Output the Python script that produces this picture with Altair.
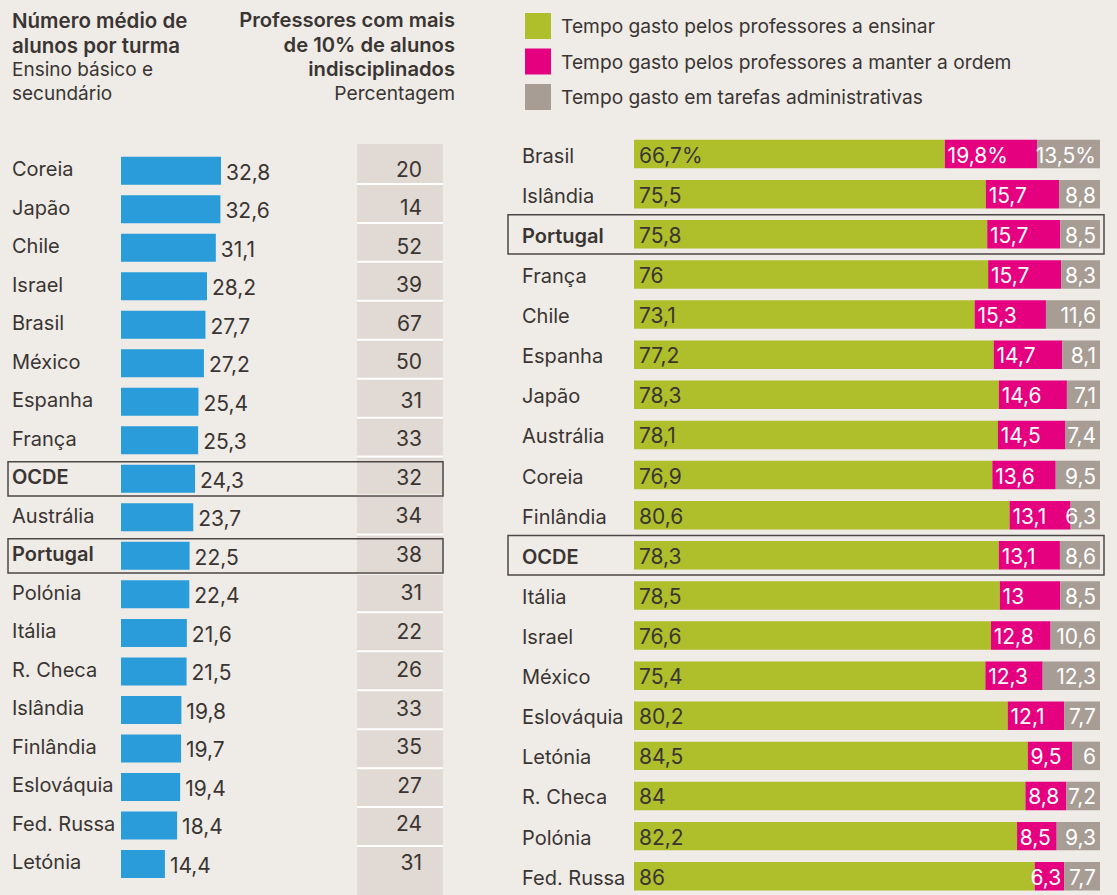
import altair as alt
import pandas as pd

# ---------------- data ----------------
left_countries = ["Coreia", "Japão", "Chile", "Israel", "Brasil", "México", "Espanha", "França",
                  "OCDE", "Austrália", "Portugal", "Polónia", "Itália", "R. Checa", "Islândia",
                  "Finlândia", "Eslováquia", "Fed. Russa", "Letónia"]
class_size = [32.8, 32.6, 31.1, 28.2, 27.7, 27.2, 25.4, 25.3, 24.3, 23.7, 22.5, 22.4, 21.6,
              21.5, 19.8, 19.7, 19.4, 18.4, 14.4]
indisc_pct = [20, 14, 52, 39, 67, 50, 31, 33, 32, 34, 38, 31, 22, 26, 33, 35, 27, 24, 31]

right_countries = ["Brasil", "Islândia", "Portugal", "França", "Chile", "Espanha", "Japão",
                   "Austrália", "Coreia", "Finlândia", "OCDE", "Itália", "Israel", "México",
                   "Eslováquia", "Letónia", "R. Checa", "Polónia", "Fed. Russa"]
teach = [66.7, 75.5, 75.8, 76, 73.1, 77.2, 78.3, 78.1, 76.9, 80.6, 78.3, 78.5, 76.6, 75.4,
         80.2, 84.5, 84, 82.2, 86]
keep_order = [19.8, 15.7, 15.7, 15.7, 15.3, 14.7, 14.6, 14.5, 13.6, 13.1, 13.1, 13, 12.8,
              12.3, 12.1, 9.5, 8.8, 8.5, 6.3]
admin = [13.5, 8.8, 8.5, 8.3, 11.6, 8.1, 7.1, 7.4, 9.5, 6.3, 8.6, 8.5, 10.6, 12.3, 7.7, 6,
         7.2, 9.3, 7.7]

segments = ["Tempo gasto pelos professores a ensinar",
            "Tempo gasto pelos professores a manter a ordem",
            "Tempo gasto em tarefas administrativas"]
seg_colors = ["#AFBE2B", "#E4007F", "#A79D95"]

highlight = ["OCDE", "Portugal"]

title_left_bold = ["Número médio de", "alunos por turma"]
title_left_reg = ["Ensino básico e", "secundário"]
title_mid_bold = ["Professores com mais", "de 10% de alunos", "indisciplinados"]
title_mid_reg = ["Percentagem"]

# ---------------- style ----------------
BG = "#EFEBE7"
COL_BG = "#E1D9D3"
BLUE = "#299CD9"
TXT = "#3A3532"
BOX = "#4D4847"
FONT = "Inter"
PX_PER_UNIT = 466 / 100.0


def fmt(v):
    return f"{v:g}".replace(".", ",")


def text_units(s):
    # rough width of a 21px label, converted to bar units (used to keep labels inside)
    w = 0.0
    for ch in s:
        w += 5.7 if ch == "," else (17.0 if ch == "%" else 12.6)
    return w / PX_PER_UNIT


# ---------------- tables ----------------
left_df = pd.DataFrame({
    "country": left_countries,
    "size": class_size,
    "size_lbl": [fmt(v) for v in class_size],
    "indisc": [str(v) for v in indisc_pct],
})
left_reg = left_df[~left_df.country.isin(highlight)]
left_bold = left_df[left_df.country.isin(highlight)]
sep_df = left_df.iloc[1:]

rows = []
for i, c in enumerate(right_countries):
    vals = [teach[i], keep_order[i], admin[i]]
    start = 0.0
    for j, s in enumerate(segments):
        lbl = fmt(vals[j]) + ("%" if i == 0 else "")
        end = start + vals[j]
        lx = min(start + 0.6, end - 0.6 - text_units(lbl)) if j == 1 else start
        rows.append({"country": c, "seg": s, "start": start, "end": end,
                     "lbl": lbl, "k": j, "lx": lx})
        start = end
right_df = pd.DataFrame(rows)
r_names = pd.DataFrame({"country": right_countries})
r_reg = r_names[~r_names.country.isin(highlight)]
r_bold = r_names[r_names.country.isin(highlight)]

legend_df = pd.DataFrame({"seg": segments})
one = pd.DataFrame({"a": [0]})

# ---------------- scales ----------------
ly_scale = alt.Scale(domain=left_countries, range=[151.5, 883.2], paddingInner=0.273, paddingOuter=0.1365)
lbox_scale = alt.Scale(domain=left_countries, range=[151.5, 883.2], paddingInner=0.11, paddingOuter=0.055)
lsep_scale = alt.Scale(domain=left_countries, range=[145, 885], paddingInner=0, paddingOuter=0)
lx_scale = alt.Scale(domain=[0, 32.8], range=[121, 221], nice=False, zero=True)

ry_scale = alt.Scale(domain=right_countries, range=[134.0, 896.3], paddingInner=0.29, paddingOuter=0.145)
rbox_scale = alt.Scale(domain=right_countries, range=[134.0, 896.3], paddingInner=0.02, paddingOuter=0.01)
rx_scale = alt.Scale(domain=[0, 100], range=[634, 1100], nice=False)

ly = alt.Y("country:N", scale=ly_scale, axis=None)
ry = alt.Y("country:N", scale=ry_scale, axis=None)

layers = []

# middle column background + separators
layers.append(alt.Chart(one).mark_rect(color=COL_BG).encode(
    x=alt.value(357), x2=alt.value(443), y=alt.value(144), y2=alt.value(895)))
layers.append(alt.Chart(sep_df).mark_rule(color="#FFFFFF", strokeWidth=2).encode(
    x=alt.value(357), x2=alt.value(443),
    y=alt.Y("country:N", scale=lsep_scale, axis=None, bandPosition=0)))

# left bars
layers.append(alt.Chart(left_df).mark_bar(color=BLUE).encode(
    x=alt.X("size:Q", scale=lx_scale, axis=None), y=ly))
layers.append(alt.Chart(left_df).mark_text(align="left", baseline="alphabetic", dx=5, dy=9,
                                           font=FONT, fontSize=21, color=TXT).encode(
    x=alt.X("size:Q", scale=lx_scale, axis=None), y=ly, text="size_lbl:N"))
# left names
layers.append(alt.Chart(left_reg).mark_text(align="left", baseline="alphabetic", dy=5.5,
                                            font=FONT, fontSize=20, color=TXT).encode(
    x=alt.value(12), y=ly, text="country:N"))
layers.append(alt.Chart(left_bold).mark_text(align="left", baseline="alphabetic", dy=5.5,
                                             font=FONT, fontSize=20, fontWeight=600, color=TXT).encode(
    x=alt.value(12), y=ly, text="country:N"))
# middle numbers
layers.append(alt.Chart(left_df).mark_text(align="right", baseline="alphabetic", dy=6,
                                           font=FONT, fontSize=21, color=TXT).encode(
    x=alt.value(422), y=ly, text="indisc:N"))
# left highlight boxes
layers.append(alt.Chart(left_bold).mark_rect(fillOpacity=0, stroke=BOX, strokeWidth=1.5).encode(
    x=alt.value(8), x2=alt.value(443),
    y=alt.Y("country:N", scale=lbox_scale, axis=None)))

# right stacked bars
color_enc = alt.Color("seg:N", scale=alt.Scale(domain=segments, range=seg_colors), legend=None)
layers.append(alt.Chart(right_df).mark_bar().encode(
    x=alt.X("start:Q", scale=rx_scale, axis=None), x2="end:Q", y=ry, color=color_enc))
layers.append(alt.Chart(right_df[right_df.k == 0]).mark_text(
    align="left", baseline="alphabetic", dx=5, dy=8.5, font=FONT, fontSize=21, color=TXT).encode(
    x=alt.X("start:Q", scale=rx_scale, axis=None), y=ry, text="lbl:N"))
layers.append(alt.Chart(right_df[right_df.k == 1]).mark_text(
    align="left", baseline="alphabetic", dx=0, dy=8.5, font=FONT, fontSize=21, color="#FFFFFF").encode(
    x=alt.X("lx:Q", scale=rx_scale, axis=None), y=ry, text="lbl:N"))
layers.append(alt.Chart(right_df[right_df.k == 2]).mark_text(
    align="right", baseline="alphabetic", dx=-4, dy=8.5, font=FONT, fontSize=21, color="#FFFFFF").encode(
    x=alt.X("end:Q", scale=rx_scale, axis=None), y=ry, text="lbl:N"))
# right names
layers.append(alt.Chart(r_reg).mark_text(align="left", baseline="alphabetic", dy=8.5,
                                         font=FONT, fontSize=20, color=TXT).encode(
    x=alt.value(522), y=ry, text="country:N"))
layers.append(alt.Chart(r_bold).mark_text(align="left", baseline="alphabetic", dy=8.5,
                                          font=FONT, fontSize=20, fontWeight=600, color=TXT).encode(
    x=alt.value(522), y=ry, text="country:N"))
# right highlight boxes
layers.append(alt.Chart(r_bold).mark_rect(fillOpacity=0, stroke=BOX, strokeWidth=1.5).encode(
    x=alt.value(508), x2=alt.value(1104),
    y=alt.Y("country:N", scale=rbox_scale, axis=None)))

# legend
leg_y = alt.Y("seg:N", scale=alt.Scale(type="point", domain=segments, range=[26, 97], padding=0), axis=None)
layers.append(alt.Chart(legend_df).mark_square(size=676, opacity=1).encode(
    x=alt.value(538), y=leg_y, color=alt.Color("seg:N", scale=alt.Scale(domain=segments, range=seg_colors), legend=None)))
layers.append(alt.Chart(legend_df).mark_text(align="left", baseline="middle", dy=1, font=FONT,
                                             fontSize=19.2, color=TXT).encode(
    x=alt.value(561), y=leg_y, text="seg:N"))

# headers
layers.append(alt.Chart(one).mark_text(text=title_left_bold, align="left", baseline="alphabetic",
                                       lineHeight=25, font=FONT, fontSize=20.5, fontWeight=600,
                                       color=TXT).encode(x=alt.value(12), y=alt.value(28)))
layers.append(alt.Chart(one).mark_text(text=title_left_reg, align="left", baseline="alphabetic",
                                       lineHeight=24, font=FONT, fontSize=19,
                                       color=TXT).encode(x=alt.value(12), y=alt.value(76)))
layers.append(alt.Chart(one).mark_text(text=title_mid_bold, align="right", baseline="alphabetic",
                                       lineHeight=24.5, font=FONT, fontSize=20.2, fontWeight=600,
                                       color=TXT).encode(x=alt.value(455), y=alt.value(27)))
layers.append(alt.Chart(one).mark_text(text=title_mid_reg, align="right", baseline="alphabetic",
                                       font=FONT, fontSize=19.2,
                                       color=TXT).encode(x=alt.value(455), y=alt.value(100)))

chart = alt.layer(*layers).resolve_scale(
    x="independent", y="independent", color="independent"
).properties(
    width=1117, height=895, background=BG, padding=0, autosize=alt.AutoSizeParams(type="none")
).configure_view(stroke=None)

chart.save("out.html", embed_options={"renderer": "svg", "actions": False})
